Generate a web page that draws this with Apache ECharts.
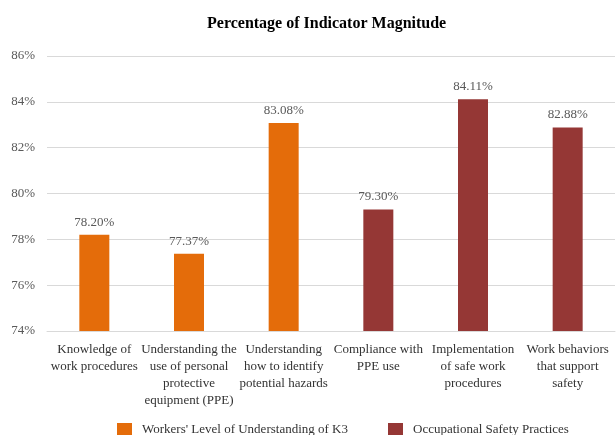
<!DOCTYPE html>
<html>
<head>
<meta charset="utf-8">
<script src="https://cdn.jsdelivr.net/npm/echarts@6/dist/echarts.min.js"></script>
<style>
  html, body { margin: 0; padding: 0; background: #fff; }
  #chart { width: 616px; height: 435px; }
</style>
</head>
<body>
<div id="chart"></div>
<script>
var categories = [
  'Knowledge of\nwork procedures',
  'Understanding the\nuse of personal\nprotective\nequipment (PPE)',
  'Understanding\nhow to identify\npotential hazards',
  'Compliance with\nPPE use',
  'Implementation\nof safe work\nprocedures',
  'Work behaviors\nthat support\nsafety'
];
var understanding = [78.20, 77.37, 83.08, '-', '-', '-'];
var practices = ['-', '-', '-', 79.30, 84.11, 82.88];
var yTicks = { min: 74, max: 86, step: 2 };

var font = 'Liberation Serif';
var chart = echarts.init(document.getElementById('chart'));

var labelCfg = {
  show: true,
  position: 'top',
  distance: 6,
  color: '#595959',
  fontFamily: font,
  fontSize: 13,
  formatter: function (p) { return p.value.toFixed(2) + '%'; }
};

chart.setOption({
  animation: false,
  title: {
    text: 'Percentage of Indicator Magnitude',
    left: 202,
    top: 11,
    textStyle: { fontFamily: font, fontWeight: 'bold', fontSize: 16, color: '#000' }
  },
  legend: {
    top: 418,
    left: 112,
    itemWidth: 15,
    itemHeight: 14,
    itemGap: 40,
    icon: 'rect',
    textStyle: { fontFamily: font, fontSize: 13, color: '#333', padding: [0, 0, 0, 5] },
    data: ["Workers' Level of Understanding of K3", 'Occupational Safety Practices']
  },
  grid: { left: 47, right: 1, top: 56, bottom: 104 },
  xAxis: {
    type: 'category',
    data: categories,
    axisTick: { show: false },
    axisLine: { lineStyle: { color: '#d9d9d9' } },
    axisLabel: {
      interval: 0,
      margin: 10,
      color: '#333',
      fontFamily: font,
      fontSize: 13,
      lineHeight: 17
    }
  },
  yAxis: {
    type: 'value',
    min: yTicks.min,
    max: yTicks.max,
    interval: yTicks.step,
    axisLine: { show: false },
    axisTick: { show: false },
    splitLine: { lineStyle: { color: '#d9d9d9' } },
    axisLabel: {
      formatter: '{value}%',
      color: '#595959',
      fontFamily: font,
      fontSize: 13,
      margin: 12
    }
  },
  series: [
    {
      name: "Workers' Level of Understanding of K3",
      type: 'bar',
      stack: 'all',
      barWidth: 30,
      itemStyle: { color: '#E46C0A' },
      label: labelCfg,
      data: understanding
    },
    {
      name: 'Occupational Safety Practices',
      type: 'bar',
      stack: 'all',
      barWidth: 30,
      itemStyle: { color: '#953735' },
      label: labelCfg,
      data: practices
    }
  ]
});
</script>
</body>
</html>
